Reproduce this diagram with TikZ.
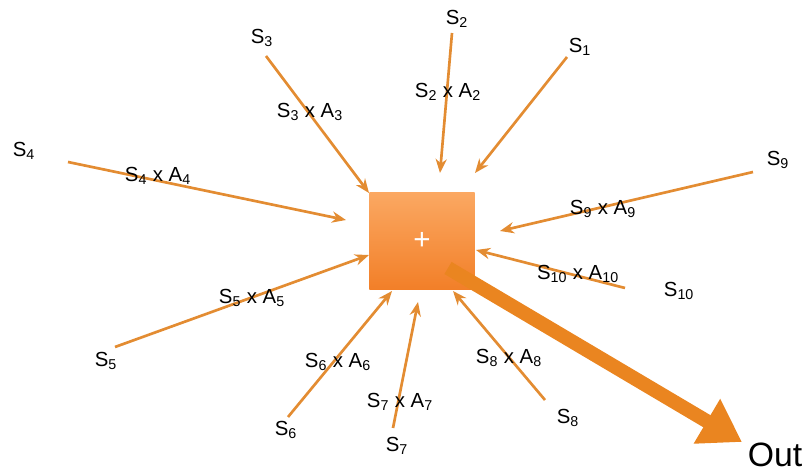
\documentclass[tikz,border=0pt]{standalone}
\usepackage{fontspec}
\setmainfont{Liberation Sans}
\usepackage{tikz}
\usetikzlibrary{arrows.meta}
\definecolor{feedorange}{HTML}{E38C32}
\definecolor{boxtop}{HTML}{FBA862}
\definecolor{boxbottom}{HTML}{F27F28}
\definecolor{outorange}{HTML}{EA8520}

\tikzset{
  feed/.style={line width=1.9pt,feedorange,-{Stealth[length=10pt,width=8pt]}},
  src/.style={font=\fontsize{14.5}{16}\selectfont,inner sep=0pt},
  prod/.style={font=\fontsize{14.5}{16}\selectfont,inner sep=0pt},
}
\newcommand{\sxa}[1]{S\textsubscript{#1} x A\textsubscript{#1}}

\begin{document}
\begin{tikzpicture}[x=0.025cm,y=-0.025cm]
    \useasboundingbox (0,0) rectangle (812,472);

    % Kotak penjumlah
    \node[top color=boxtop,bottom color=boxbottom,minimum width=2.625cm,minimum height=2.425cm,
          text=white,font=\fontsize{21}{24}\selectfont] (sum) at (422,241) {+};

    % Titik awal dan akhir tiap masukan
    \coordinate (a1) at (567,57);   \coordinate (b1) at (475,173);
    \coordinate (a2) at (452,33);   \coordinate (b2) at (440,173);
    \coordinate (a3) at (266,56);   \coordinate (b3) at (369,193);
    \coordinate (a4) at (68,162);   \coordinate (b4) at (346,220);
    \coordinate (a5) at (115,347);  \coordinate (b5) at (369,255);
    \coordinate (a6) at (288,417);  \coordinate (b6) at (392,291);
    \coordinate (a7) at (393,428);  \coordinate (b7) at (418,302);
    \coordinate (a8) at (545,400);  \coordinate (b8) at (453,291);
    \coordinate (a9) at (753,172);  \coordinate (b9) at (500,231);
    \coordinate (a10) at (625,288); \coordinate (b10) at (476,250);

    % Garis masukan dengan panah ke kotak
    \foreach \i in {1,...,10}
        \draw[feed] (a\i) -- (b\i);

    % Label sumber
    \node[src] (s1) at (580,47) {S\textsubscript{1}};
    \node[src] (s2) at (457,19) {S\textsubscript{2}};
    \node[src] (s3) at (262,38) {S\textsubscript{3}};
    \node[src] (s4) at (24,151) {S\textsubscript{4}};
    \node[src] (s5) at (106,361) {S\textsubscript{5}};
    \node[src] (s6) at (286,430) {S\textsubscript{6}};
    \node[src] (s7) at (397,446) {S\textsubscript{7}};
    \node[src] (s8) at (568,418) {S\textsubscript{8}};
    \node[src] (s9) at (778,160) {S\textsubscript{9}};
    \node[src] (s10) at (679,291) {S\textsubscript{10}};

    % Label perkalian di atas garis
    \node[prod] (p2) at (448,92) {\sxa{2}};
    \node[prod] (p3) at (310,112) {\sxa{3}};
    \node[prod] (p4) at (158,176) {\sxa{4}};
    \node[prod] (p5) at (252,298) {\sxa{5}};
    \node[prod] (p6) at (338,362) {\sxa{6}};
    \node[prod] (p7) at (400,402) {\sxa{7}};
    \node[prod] (p8) at (509,358) {\sxa{8}};
    \node[prod] (p9) at (603,209) {\sxa{9}};
    \node[prod] (p10) at (578,274) {\sxa{10}};

    % Panah keluaran
    \coordinate (o1) at (448,268);
    \coordinate (o2) at (742,442);
    \draw[outorange,line width=10pt,-{Triangle[length=29pt,width=35pt]}] (o1) -- (o2);
    \node[font=\fontsize{24}{28}\selectfont,inner sep=0pt] (out) at (775,455) {Out};

\end{tikzpicture}
\end{document}
